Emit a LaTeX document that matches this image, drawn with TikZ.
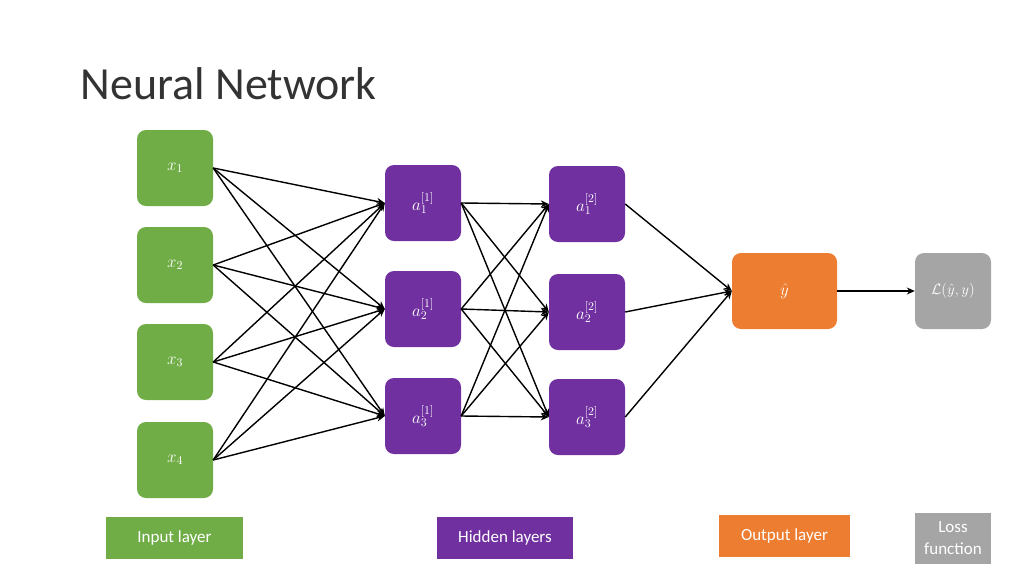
\documentclass[tikz,border=0pt]{standalone}
\usepackage{fix-cm}
\usepackage{fontspec}
\setmainfont{Carlito}
\usetikzlibrary{arrows.meta,positioning}
\definecolor{ingreen}{HTML}{70AD47}
\definecolor{hidpurple}{HTML}{7030A0}
\definecolor{outorange}{HTML}{ED7D31}
\definecolor{lossgray}{HTML}{A5A5A5}
\tikzset{
         unit/.style={rounded corners=9,minimum width=76,minimum height=76,inner sep=1,
                      text=white,font=\fontsize{17}{20}\selectfont},
         legend/.style={text=white,font=\fontsize{17}{20}\selectfont,align=center},
         link/.style={-{Stealth[length=8,width=7]},line width=1.4}
        }
\begin{document}
\begin{tikzpicture}[x=1pt,y=-1pt]
\useasboundingbox (0,0) rectangle (1024,576);
%title
\node[anchor=base west,font=\fontsize{46}{52}\selectfont,text=black!80] (title) at (77,99){Neural Network};
%input layer
\foreach \i/\y in {1/168,2/265,3/362,4/460}
{
\node[unit,fill=ingreen] (x\i) at (175,\y){$x_{\i}$};
}
%hidden layers
\foreach \i/\y in {1/203,2/309,3/416}
{
\node[unit,fill=hidpurple] (a\i) at (423,\y){$a^{[1]}_{\i}$};
}
\foreach \i/\y in {1/204,2/312,3/417}
{
\node[unit,fill=hidpurple] (b\i) at (587,\y){$a^{[2]}_{\i}$};
}
%output and loss
\node[unit,fill=outorange,minimum width=105] (yhat) at (784.5,291){$\hat{y}$};
\node[unit,fill=lossgray,font=\fontsize{15}{18}\selectfont] (loss) at (953,291){$\mathcal{L}(\hat{y},y)$};
%connections
\foreach \i in {1,...,4}
{
\foreach \j in {1,...,3}
{
\draw[link](x\i.east)--(a\j.west);
}
}
\foreach \i in {1,...,3}
{
\foreach \j in {1,...,3}
{
\draw[link](a\i.east)--(b\j.west);
}
\draw[link](b\i.east)--(yhat.west);
}
\draw[link](yhat.east)--(loss.west);
%legend
\node[legend,fill=ingreen,minimum width=137,minimum height=42] (inlab) at (174.5,538){Input layer};
\node[legend,fill=hidpurple,minimum width=136,minimum height=42] (hidlab) at (505,538){Hidden layers};
\node[legend,fill=outorange,minimum width=131,minimum height=42] (outlab) at (784.5,536){Output layer};
\node[legend,fill=lossgray,minimum width=76,minimum height=51,inner sep=1,
      font=\fontsize{17}{22}\selectfont] (losslab) at (953,538.5){Loss\\function};
\end{tikzpicture}
\end{document}
